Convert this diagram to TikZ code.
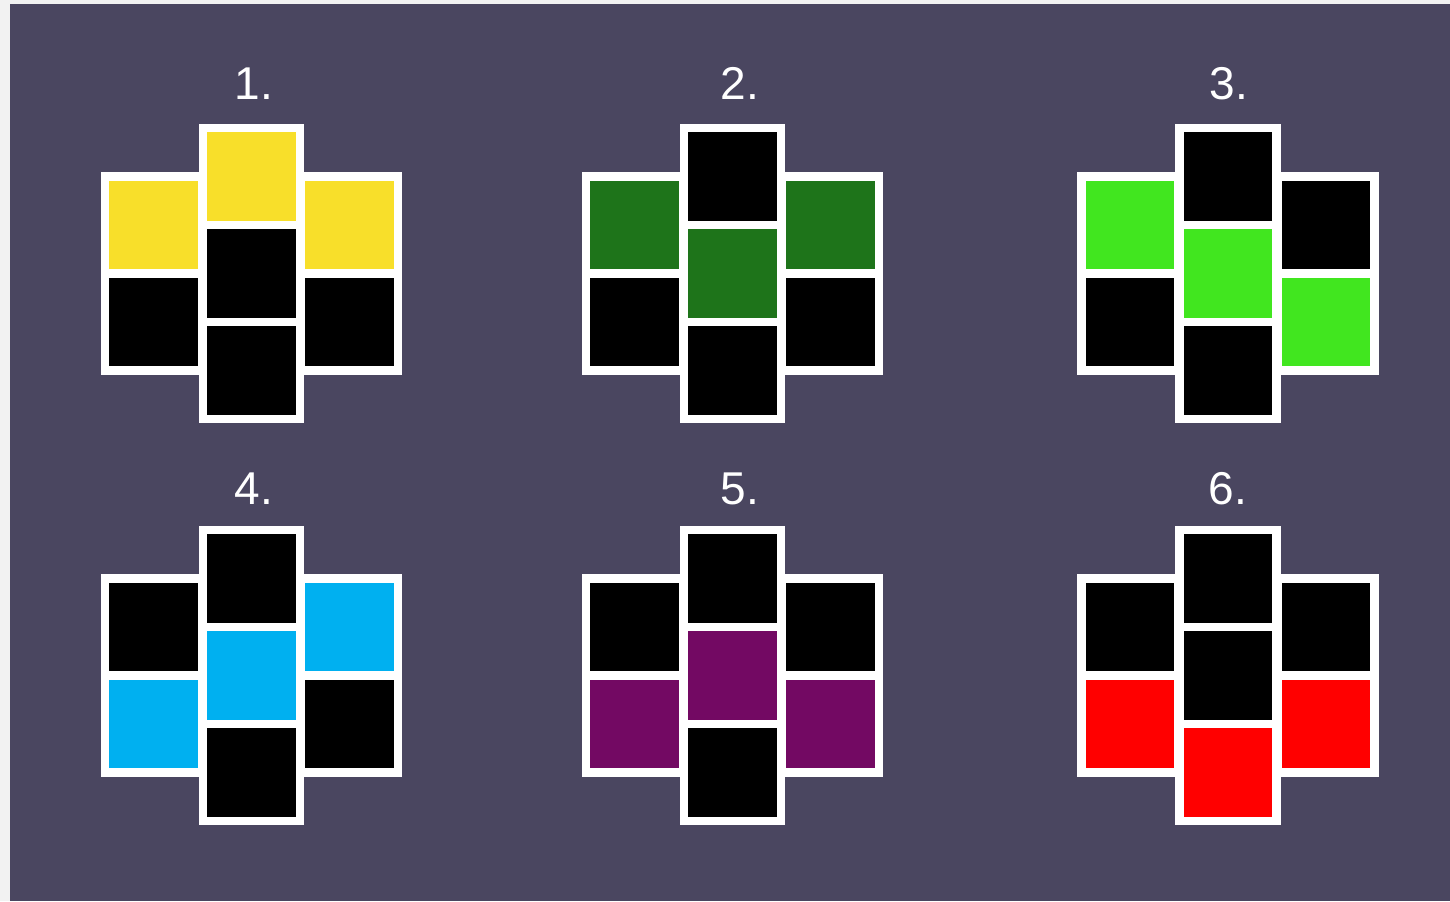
\documentclass[tikz,border=0pt]{standalone}
\usepackage{fontspec}
\setmainfont{Liberation Sans}
\usetikzlibrary{positioning}

\definecolor{pagegray}{HTML}{F2F2F2}
\definecolor{slate}{HTML}{4A4660}
\definecolor{cellyellow}{HTML}{F8DF2A}
\definecolor{celldark}{HTML}{1E741A}
\definecolor{cellgreen}{HTML}{41E61F}
\definecolor{cellcyan}{HTML}{00B0F0}
\definecolor{cellpurple}{HTML}{730963}
\definecolor{cellred}{HTML}{FF0000}

\begin{document}
\begin{tikzpicture}[
    x=0.5pt,
    y=-0.5pt,
    cell/.style={
        rectangle,
        draw=white,
        line width=4.25pt,
        minimum size=48.45pt,
        inner sep=0pt
    },
    numlabel/.style={
        text=white,
        anchor=base,
        font=\fontsize{23}{23}\selectfont
    }
]

% Background
\fill[pagegray] (0,0) rectangle (1450,901);
\fill[slate] (10,4) rectangle (1450,901);
\useasboundingbox (0,0) rectangle (1450,901);

% Six crosses: left column (2 cells), middle column (3 cells), right column (2 cells)
\foreach \n/\cx/\cy/\lx/\ly/\la/\lb/\ma/\mb/\mc/\ra/\rb in {
    1/251.5/273.5/254/99/cellyellow/black/cellyellow/black/black/cellyellow/black,
    2/732.5/273.5/740/99/celldark/black/black/celldark/black/celldark/black,
    3/1228/273.5/1229/99/cellgreen/black/black/cellgreen/black/black/cellgreen,
    4/251.5/675.5/254/504/black/cellcyan/black/cellcyan/black/cellcyan/black,
    5/732.5/675.5/740/504/black/cellpurple/black/cellpurple/black/black/cellpurple,
    6/1228/675.5/1228/504/black/cellred/black/black/cellred/black/cellred}
{
    % middle column
    \node[cell, fill=\ma] (f\n-m1) at (\cx,\cy-97) {};
    \node[cell, fill=\mb] (f\n-m2) at (\cx,\cy) {};
    \node[cell, fill=\mc] (f\n-m3) at (\cx,\cy+97) {};
    % side columns
    \node[cell, fill=\la] (f\n-l1) at (\cx-98,\cy-48.5) {};
    \node[cell, fill=\lb] (f\n-l2) at (\cx-98,\cy+48.5) {};
    \node[cell, fill=\ra] (f\n-r1) at (\cx+98,\cy-48.5) {};
    \node[cell, fill=\rb] (f\n-r2) at (\cx+98,\cy+48.5) {};
    % number
    \node[numlabel] (lab\n) at (\lx,\ly) {\n.};
}

\end{tikzpicture}
\end{document}
